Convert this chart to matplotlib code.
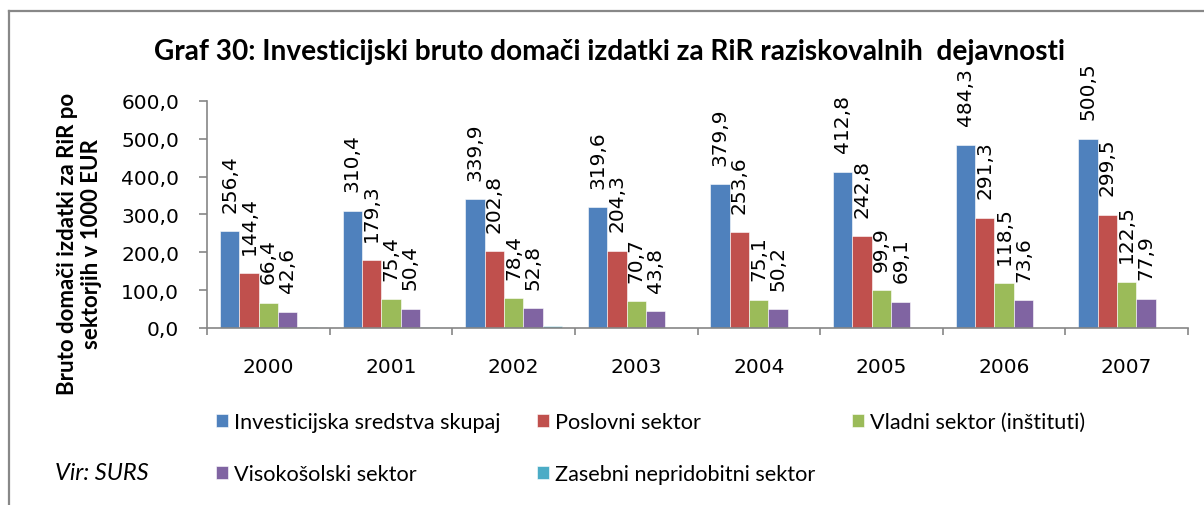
import matplotlib
matplotlib.use("Agg")
import matplotlib.pyplot as plt
from matplotlib.lines import Line2D
import numpy as np

years = ["2000", "2001", "2002", "2003", "2004", "2005", "2006", "2007"]
series_names = [
    "Investicijska sredstva skupaj",
    "Poslovni sektor",
    "Vladni sektor (inštituti)",
    "Visokošolski sektor",
    "Zasebni nepridobitni sektor",
]
skupaj = [256.4, 310.4, 339.9, 319.6, 379.9, 412.8, 484.3, 500.5]
poslovni = [144.4, 179.3, 202.8, 204.3, 253.6, 242.8, 291.3, 299.5]
vladni = [66.4, 75.4, 78.4, 70.7, 75.1, 99.9, 118.5, 122.5]
visokosolski = [42.6, 50.4, 52.8, 43.8, 50.2, 69.1, 73.6, 77.9]
zasebni = [3.1, 3.3, 5.8, 0, 0, 0, 0, 0]
labelled = [True, True, True, True, False]
colors = ["#4F81BD", "#C0504D", "#9BBB59", "#8064A2", "#4BACC6"]
y_ticks = [0, 100, 200, 300, 400, 500, 600]
y_tick_labels = ["0,0", "100,0", "200,0", "300,0", "400,0", "500,0", "600,0"]

title = "Graf 30: Investicijski bruto domači izdatki za RiR raziskovalnih  dejavnosti"
ylabel_1 = "Bruto domači izdatki za RiR po"
ylabel_2 = "sektorjih v 1000 EUR"
source = "Vir: SURS"

W, H = 1204, 506
fig = plt.figure(figsize=(W / 100, H / 100), dpi=100)
fig.patch.set_facecolor("white")

ax = fig.add_axes([207 / W, 1 - 329 / H, (1188 - 207) / W, (329 - 102) / H])

all_series = [skupaj, poslovni, vladni, visokosolski, zasebni]
n = len(years)
bw = 0.158
centers = np.arange(n) + 0.5
num_font = "DejaVu Sans"
txt_font = ["Lato", "DejaVu Sans"]

handles = []
for j, (vals, col, name) in enumerate(zip(all_series, colors, series_names)):
    xs = centers + (j - 2) * bw
    bars = ax.bar(xs, vals, width=bw, color=col, edgecolor="white", linewidth=0.4, label=name)
    handles.append(bars)
    if labelled[j]:
        for x, v in zip(xs, vals):
            ax.annotate(f"{v:.1f}".replace(".", ","), (x, v), xytext=(0, 14),
                        textcoords="offset points", rotation=90, ha="center", va="bottom",
                        fontsize=14.5, family=num_font, color="black",
                        annotation_clip=False)

ax.set_xlim(0, n)
ax.set_ylim(0, 600)
ax.set_yticks(y_ticks)
ax.set_yticklabels(y_tick_labels, fontsize=14.5, family=num_font)
ax.set_xticks(np.arange(n + 1))
ax.set_xticklabels([])
ax.set_xticks(centers, minor=True)
ax.set_xticklabels(years, minor=True, fontsize=14.5, family=num_font)
ax.tick_params(axis="x", which="major", length=5, color="#868686", width=1.2)
ax.tick_params(axis="x", which="minor", length=0, pad=21)
ax.tick_params(axis="y", which="major", length=6, color="#868686", width=1.2, pad=14)
for s in ["top", "right"]:
    ax.spines[s].set_visible(False)
for s in ["left", "bottom"]:
    ax.spines[s].set_color("#868686")
    ax.spines[s].set_linewidth(1.2)

fig.text(609 / W, 1 - 52 / H, title, ha="center", va="center", fontsize=20.2,
         fontweight="bold", family=txt_font)
fig.text(68 / W, 1 - 244 / H, ylabel_1, rotation=90, ha="center", va="center",
         fontsize=16, fontweight="bold", family=txt_font)
fig.text(91 / W, 1 - 244 / H, ylabel_2, rotation=90, ha="center", va="center",
         fontsize=16, fontweight="bold", family=txt_font)
fig.text(55 / W, 1 - 474 / H, source, ha="left", va="center", fontsize=17,
         style="italic", family=txt_font)

order = [0, 3, 1, 4, 2]
leg = fig.legend([handles[i] for i in order], [series_names[i] for i in order],
                 ncol=3, loc="upper left", bbox_to_anchor=(216 / W, 1 - 413 / H),
                 frameon=False, prop={"family": txt_font, "size": 15.6},
                 handlelength=0.55, handleheight=0.55, handletextpad=0.28,
                 columnspacing=1.7, labelspacing=1.5, borderpad=0, borderaxespad=0)

# outer frame (only top and left visible)
fig.add_artist(Line2D([9 / W, 9 / W], [0, 1 - 12 / H], transform=fig.transFigure,
                      color="#888888", linewidth=1.6))
fig.add_artist(Line2D([9 / W, 1], [1 - 12 / H, 1 - 12 / H], transform=fig.transFigure,
                      color="#888888", linewidth=1.6))

fig.savefig("out.png", dpi=100, facecolor="white")
